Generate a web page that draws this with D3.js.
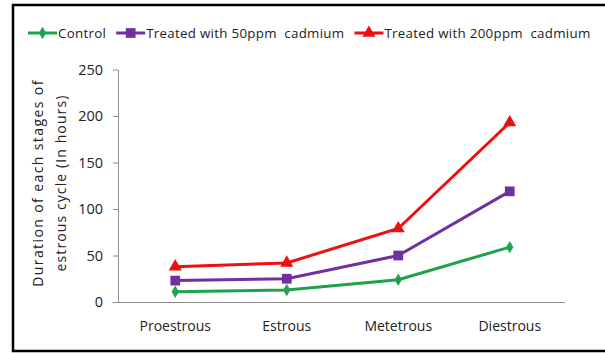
<!DOCTYPE html>
<html>
<head>
<meta charset="utf-8">
<script src="https://cdn.jsdelivr.net/npm/d3@7"></script>
<style>
  body { margin: 0; background: #fff; }
  svg { display: block; font-family: "Open Sans", sans-serif; }
</style>
</head>
<body>
<svg id="chart" width="605" height="353"></svg>
<script>
// chart data
const stages = ['Proestrous', 'Estrous', 'Metetrous', 'Diestrous'];
const control = [11, 13, 24, 59];
const cd50 = [23, 25, 50, 119];
const cd200 = [38, 42, 79, 193];
const yTicks = [0, 50, 100, 150, 200, 250];
const seriesNames = ['Control', 'Treated with 50ppm\u00a0 cadmium', 'Treated with 200ppm\u00a0 cadmium'];

const series = [
  { name: seriesNames[0], values: control, color: '#1fa24c', symbol: d3.symbolDiamond, size: 45 },
  { name: seriesNames[1], values: cd50, color: '#7030a0', symbol: d3.symbolSquare, size: 95 },
  { name: seriesNames[2], values: cd200, color: '#ee1010', symbol: d3.symbolTriangle, size: 75 }
];

const svg = d3.select('#chart');

// outer frame (runs off the right edge like the original)
svg.append('rect')
  .attr('x', 13).attr('y', 5)
  .attr('width', 620).attr('height', 346)
  .attr('fill', 'none')
  .attr('stroke', '#000')
  .attr('stroke-width', 2.5);

const plot = { left: 118, right: 565, top: 69.5, bottom: 302 };

const x = d3.scaleBand()
  .domain(stages)
  .range([plot.left + 1.5, plot.right + 0.5]);
const y = d3.scaleLinear()
  .domain([0, 250])
  .range([plot.bottom, plot.top]);

// y axis
const yAxis = d3.axisLeft(y).tickValues(yTicks).tickSizeInner(5).tickSizeOuter(0).tickPadding(10);
const gy = svg.append('g')
  .attr('transform', 'translate(' + plot.left + ',0)')
  .call(yAxis);
gy.select('.domain').attr('stroke', '#8c8c8c');
gy.selectAll('.tick line').attr('stroke', '#8c8c8c');
gy.selectAll('.tick text').attr('font-family', '"Open Sans", sans-serif').attr('font-size', 14.5).attr('fill', '#222');

// x axis
const xAxis = d3.axisBottom(x).tickSize(0).tickPadding(19);
const gx = svg.append('g')
  .attr('transform', 'translate(0,' + plot.bottom + ')')
  .call(xAxis);
gx.select('.domain').attr('stroke', '#8c8c8c').attr('d', 'M' + plot.left + ',0.5H' + plot.right);
gx.selectAll('.tick text').attr('font-family', '"Open Sans", sans-serif').attr('font-size', 14).attr('fill', '#222');

// y axis title, two lines
const yTitle = svg.append('text')
  .attr('transform', 'translate(0,183) rotate(-90)')
  .attr('text-anchor', 'middle')
  .attr('font-size', 14)
  .attr('fill', '#222');
yTitle.append('tspan').attr('x', 0).attr('y', 43).attr('letter-spacing', 1.4).text('Duration of each stages of');
yTitle.append('tspan').attr('x', 0).attr('y', 66).attr('letter-spacing', 1.1).text('estrous cycle (In hours)');

// lines
const line = d3.line()
  .x((d, i) => x(stages[i]) + x.bandwidth() / 2)
  .y(d => y(d));

series.forEach(s => {
  svg.append('path')
    .attr('d', line(s.values))
    .attr('fill', 'none')
    .attr('stroke', s.color)
    .attr('stroke-width', 3);
  svg.selectAll(null)
    .data(s.values)
    .enter()
    .append('path')
    .attr('d', d3.symbol().type(s.symbol).size(s.size))
    .attr('transform', (d, i) => 'translate(' + (x(stages[i]) + x.bandwidth() / 2) + ',' + y(d) + ')')
    .attr('fill', s.color);
});

// legend
let lx = 28;
const ly = 33;
series.forEach(s => {
  const g = svg.append('g');
  g.append('line')
    .attr('x1', lx).attr('x2', lx + 29)
    .attr('y1', ly).attr('y2', ly)
    .attr('stroke', s.color).attr('stroke-width', 3);
  g.append('path')
    .attr('d', d3.symbol().type(s.symbol).size(s.size))
    .attr('transform', 'translate(' + (lx + 14.5) + ',' + ly + ')')
    .attr('fill', s.color);
  const t = g.append('text')
    .attr('x', lx + 30).attr('y', ly + 4.5)
    .attr('font-size', 13.3)
    .attr('letter-spacing', 0.3)
    .attr('fill', '#222')
    .text(s.name);
  lx += 30 + t.node().getComputedTextLength() + 10;
});
</script>
</body>
</html>
